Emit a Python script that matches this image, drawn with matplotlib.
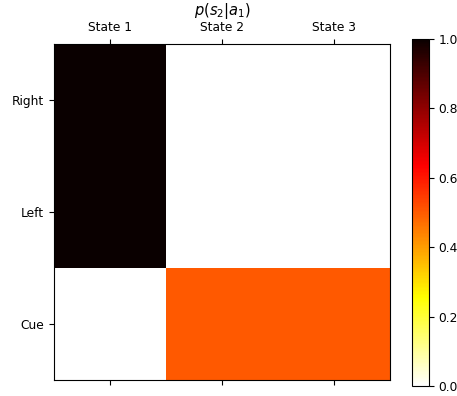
import numpy as np
import matplotlib
matplotlib.use("Agg")
import matplotlib.pyplot as plt

plt.rcParams["font.size"] = 8.8

# observation model rows (actions / cues) x states
row_labels = ["Right", "Left", "Cue"]
col_labels = ["State 1", "State 2", "State 3"]
probs = np.array([
    [1.0, 0.0, 0.0],
    [1.0, 0.0, 0.0],
    [0.0, 0.5, 0.5],
])

fig = plt.figure(figsize=(4.57, 3.96), dpi=100)
ax = fig.add_axes([54 / 457, 1 - 380 / 396, 336 / 457, 336 / 396])
cax = fig.add_axes([412 / 457, 1 - 386 / 396, 17 / 457, 347 / 396])

im = ax.imshow(probs, cmap="hot_r", vmin=0, vmax=1, aspect="auto")
ax.set_xticks(range(len(col_labels)))
ax.set_xticklabels(col_labels)
ax.set_yticks(range(len(row_labels)))
ax.set_yticklabels(row_labels)
ax.tick_params(top=True, labeltop=True, bottom=True, labelbottom=False)
ax.set_title("$p(s_2|a_1)$", fontsize=10.5, pad=4)

fig.colorbar(im, cax=cax)

fig.savefig("out.png", dpi=100)
